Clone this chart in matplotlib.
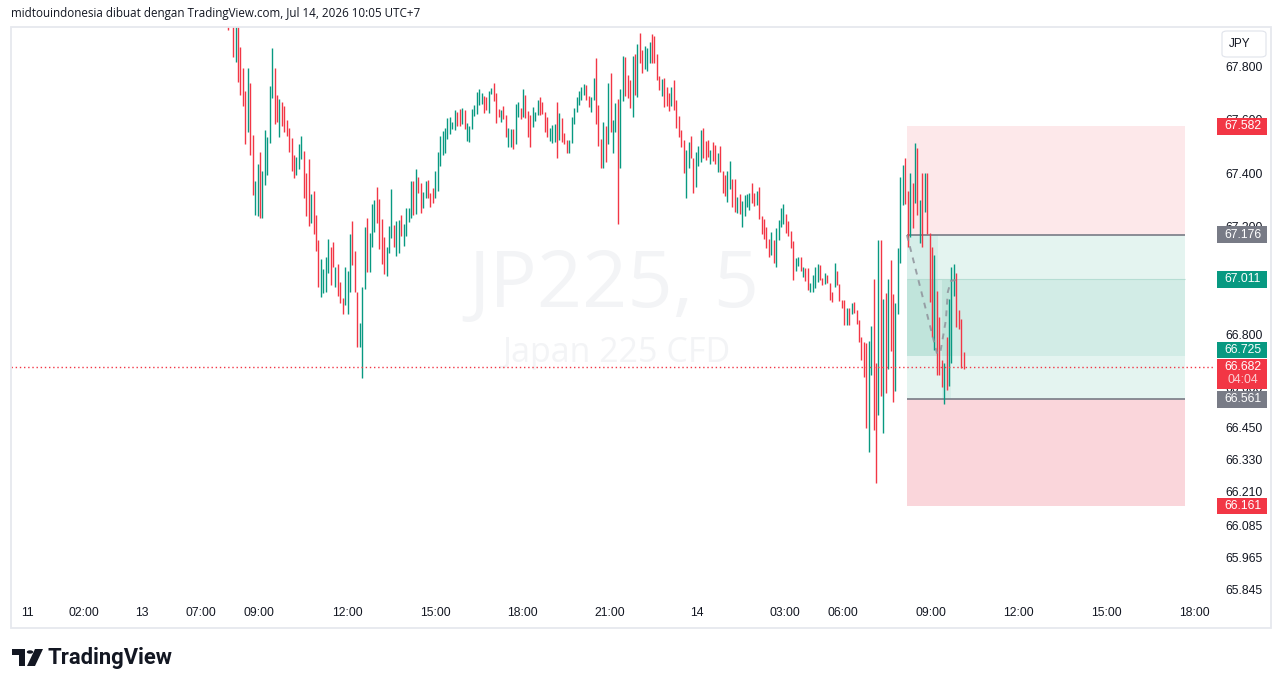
import matplotlib
matplotlib.use("Agg")
import matplotlib.pyplot as plt
import matplotlib.transforms as mtransforms
from matplotlib.patches import Rectangle, Polygon, Circle, FancyBboxPatch

# ---------------- data ----------------
highs = [
    67.990, 68.020, 67.990, 67.970, 67.960, 67.878, 67.800, 67.714, 67.800, 67.744,
    67.549, 67.377, 67.441, 67.486, 67.415, 67.568, 67.542, 67.733, 67.875, 67.800,
    67.699, 67.684, 67.673, 67.658, 67.605, 67.576, 67.538, 67.475, 67.467, 67.516,
    67.546, 67.490, 67.407, 67.460, 67.329, 67.340, 67.250, 67.157, 67.086, 67.049,
    67.093, 67.161, 67.131, 67.149, 67.056, 67.067, 67.000, 66.940, 67.056, 67.041,
    67.179, 67.228, 67.116, 66.963, 66.847, 66.981, 67.205, 67.239, 67.183, 67.291,
    67.306, 67.355, 67.310, 67.235, 67.168, 67.131, 67.209, 67.348, 67.213, 67.228,
    67.232, 67.250, 67.217, 67.277, 67.277, 67.377, 67.377, 67.422, 67.392, 67.370,
    67.336, 67.377, 67.381, 67.333, 67.351, 67.415, 67.486, 67.546, 67.564, 67.576,
    67.613, 67.617, 67.598, 67.643, 67.635, 67.647, 67.650, 67.643, 67.594, 67.583,
    67.647, 67.662, 67.710, 67.721, 67.706, 67.695, 67.691, 67.714, 67.725, 67.744,
    67.706, 67.647, 67.643, 67.658, 67.624, 67.576, 67.572, 67.572, 67.665, 67.673,
    67.650, 67.721, 67.699, 67.639, 67.624, 67.654, 67.635, 67.680, 67.691, 67.673,
    67.635, 67.617, 67.576, 67.587, 67.591, 67.673, 67.632, 67.613, 67.557, 67.531,
    67.531, 67.617, 67.650, 67.691, 67.714, 67.729, 67.740, 67.736, 67.695, 67.691,
    67.762, 67.837, 67.662, 67.534, 67.598, 67.583, 67.744, 67.781, 67.605, 67.669,
    67.684, 67.721, 67.845, 67.841, 67.774, 67.755, 67.845, 67.852, 67.890, 67.931,
    67.867, 67.882, 67.875, 67.897, 67.927, 67.919, 67.852, 67.770, 67.759, 67.762,
    67.729, 67.706, 67.729, 67.755, 67.680, 67.620, 67.568, 67.531, 67.493, 67.523,
    67.546, 67.463, 67.486, 67.508, 67.568, 67.576, 67.527, 67.531, 67.493, 67.523,
    67.512, 67.482, 67.508, 67.415, 67.400, 67.415, 67.452, 67.385, 67.385, 67.318,
    67.329, 67.303, 67.325, 67.329, 67.333, 67.370, 67.333, 67.340, 67.355, 67.247,
    67.235, 67.205, 67.161, 67.187, 67.157, 67.202, 67.232, 67.277, 67.291, 67.254,
    67.228, 67.191, 67.153, 67.090, 67.093, 67.093, 67.056, 67.052, 67.052, 66.996,
    67.026, 67.056, 67.067, 67.063, 67.015, 67.034, 67.026, 66.996, 66.963, 67.071,
    67.041, 66.992, 66.933, 66.933, 66.903, 66.903, 66.921, 66.925, 66.895, 66.858,
    66.794, 66.776, 66.772, 66.779, 66.835, 67.011, 66.697, 67.157, 67.157, 66.936,
    66.959, 67.011, 67.082, 66.955, 66.921, 67.127, 67.392, 67.437, 67.463, 67.340,
    67.407, 67.370, 67.519, 67.501, 67.306, 67.407, 67.407, 67.407, 67.183, 67.131,
    67.101, 66.966, 66.869, 66.708, 66.697, 66.794, 66.936, 67.056, 67.067, 67.034,
    66.895, 66.862, 66.738,
]
lows = [
    67.942, 67.960, 67.841, 67.822, 67.748, 67.699, 67.658, 67.516, 67.561, 67.475,
    67.325, 67.250, 67.247, 67.239, 67.239, 67.363, 67.400, 67.519, 67.688, 67.591,
    67.598, 67.542, 67.583, 67.561, 67.546, 67.486, 67.415, 67.389, 67.400, 67.422,
    67.460, 67.314, 67.247, 67.209, 67.220, 67.179, 67.116, 66.981, 66.944, 66.959,
    66.963, 67.034, 66.989, 67.056, 66.981, 66.948, 66.921, 66.880, 66.914, 66.880,
    66.963, 67.063, 66.963, 66.757, 66.757, 66.641, 66.974, 67.037, 67.037, 67.131,
    67.187, 67.220, 67.123, 67.067, 67.030, 67.022, 67.108, 67.164, 67.131, 67.097,
    67.108, 67.172, 67.134, 67.172, 67.224, 67.239, 67.250, 67.254, 67.333, 67.258,
    67.277, 67.314, 67.314, 67.280, 67.295, 67.314, 67.340, 67.433, 67.475, 67.482,
    67.534, 67.553, 67.572, 67.568, 67.583, 67.583, 67.591, 67.572, 67.527, 67.523,
    67.572, 67.620, 67.628, 67.662, 67.665, 67.632, 67.643, 67.632, 67.703, 67.677,
    67.594, 67.617, 67.598, 67.609, 67.542, 67.504, 67.504, 67.497, 67.516, 67.617,
    67.609, 67.617, 67.613, 67.542, 67.504, 67.579, 67.602, 67.624, 67.624, 67.628,
    67.561, 67.542, 67.527, 67.519, 67.523, 67.463, 67.531, 67.523, 67.516, 67.482,
    67.482, 67.519, 67.591, 67.635, 67.662, 67.680, 67.699, 67.680, 67.654, 67.635,
    67.680, 67.591, 67.508, 67.426, 67.426, 67.448, 67.516, 67.561, 67.482, 67.561,
    67.217, 67.426, 67.677, 67.695, 67.688, 67.650, 67.617, 67.699, 67.691, 67.819,
    67.781, 67.796, 67.789, 67.819, 67.819, 67.819, 67.755, 67.718, 67.695, 67.654,
    67.658, 67.639, 67.658, 67.643, 67.576, 67.542, 67.504, 67.407, 67.314, 67.426,
    67.463, 67.333, 67.355, 67.433, 67.448, 67.463, 67.456, 67.467, 67.441, 67.452,
    67.441, 67.411, 67.411, 67.333, 67.321, 67.299, 67.348, 67.280, 67.262, 67.258,
    67.254, 67.205, 67.247, 67.280, 67.269, 67.295, 67.284, 67.288, 67.235, 67.179,
    67.161, 67.127, 67.093, 67.101, 67.071, 67.056, 67.157, 67.205, 67.217, 67.183,
    67.172, 67.127, 67.007, 67.041, 67.060, 67.041, 67.019, 67.004, 66.970, 66.963,
    66.963, 66.977, 67.000, 67.007, 66.989, 66.992, 66.996, 66.933, 66.925, 66.981,
    66.989, 66.929, 66.903, 66.839, 66.839, 66.839, 66.880, 66.884, 66.843, 66.776,
    66.708, 66.645, 66.454, 66.364, 66.652, 66.447, 66.249, 66.503, 66.574, 66.435,
    66.585, 66.675, 66.742, 66.551, 66.592, 66.880, 67.071, 67.288, 67.291, 67.131,
    67.168, 67.202, 67.295, 67.250, 67.146, 67.131, 67.262, 67.179, 66.925, 66.794,
    66.746, 66.652, 66.652, 66.607, 66.544, 66.596, 66.611, 66.697, 66.948, 66.832,
    66.824, 66.678, 66.675,
]
directions = (
    "RRRGRRRRGR" "RGGRGGGGGR" "RGRRRRRRGG" "GRRRGRRRGG" "GGRRGRRRGG"
    "GRRRGGGRGG" "GRRRRGGGRG" "GRGGGGRGRR" "GGRRRGGGGG" "GGGGRRGRGG"
    "GGGGGRRGGR" "RRGRRGGRGG" "RGRRRGGGRR" "RRGGGRGRRR" "GGGGGGGRRG"
    "GRRRGRGRGG" "RGGRRRGRGR" "RGGGRRRRGR" "RRGRRRRRGG" "RRGGGRRRGR"
    "RGRRRGGRRG" "RGGGGRRGRR" "RRRGRGGGGR" "RRRGGRGRRG" "GGGRRGRRRG"
    "RRRRGRGRRR" "RRRGGRRGRG" "RGRRGGGGRR" "GRGRGRGRRR" "GRRRGRGGGR"
    "RRR"
)

time_labels = ["11", "02:00", "13", "07:00", "09:00", "12:00", "15:00", "18:00",
               "21:00", "14", "03:00", "06:00", "09:00", "12:00", "15:00", "18:00"]
time_label_bars = [-82.6, -59.3, -35.3, -11.2, 12.6, 48.8, 84.9, 120.6,
                   156.8, 192.5, 228.6, 252.4, 288.6, 324.7, 360.5, 396.6]
price_ticks = [67.800, 67.600, 67.400, 67.200, 66.800, 66.600,
               66.450, 66.330, 66.210, 66.085, 65.965, 65.845]

# position tool drawing
tool_start, tool_end = 278.7, 392.8
stop_high = 67.582
entry_high = 67.176
band_high = 67.011
band_low = 66.725
entry_low = 66.561
stop_low = 66.161
strip1 = (278.7, 291.6)
strip2 = (293.2, 296.9)
last_price = 66.682
countdown = "04:04"
path_bars = [278.7, 291.0, 292.3, 294.7, 295.5, 296.8, 298.4, 299.6]
path_prices = [67.176, 66.735, 66.731, 66.858, 66.963, 67.004, 67.007, 66.992]

# ---------------- style ----------------
UP = "#089981"
DOWN = "#F23645"
GRAYLBL = "#787B86"
TXT = "#131722"
W, H = 1281, 688
NUM_FONT = ["Liberation Sans", "DejaVu Sans"]


def fx(px):
    return px / W


def fy(py):
    return 1 - py / H


fig = plt.figure(figsize=(W / 100, H / 100), dpi=100)
fig.patch.set_facecolor("white")

ax = fig.add_axes([fx(11), fy(602), (1213 - 11) / W, (602 - 27) / H])
ax.set_xlim(-89.25, 404.4)
ax.set_ylim(65.804, 67.953)
ax.set_facecolor("white")
for s in ax.spines.values():
    s.set_visible(False)
ax.set_xticks([])
ax.set_yticks([])

# watermark
ax.text(fx(614), fy(287), "JP225, 5", transform=fig.transFigure, ha="center",
        va="center", fontsize=57, color="#F3F4F6", family="Open Sans", zorder=0.5)
ax.text(fx(617), fy(353), "Japan 225 CFD", transform=fig.transFigure, ha="center",
        va="center", fontsize=24.5, color="#F3F4F6", family="Open Sans", zorder=0.5)

# position tool zones
tw = tool_end - tool_start
ax.add_patch(Rectangle((tool_start, entry_high), tw, stop_high - entry_high,
                       fc="#FDE8EA", ec="none", zorder=1))
ax.add_patch(Rectangle((tool_start, entry_low), tw, entry_high - entry_low,
                       fc="#E4F4F0", ec="none", zorder=1))
ax.add_patch(Rectangle((tool_start, stop_low), tw, entry_low - stop_low,
                       fc="#FAD6DB", ec="none", zorder=1))
ax.add_patch(Rectangle((tool_start, band_low), tw, band_high - band_low,
                       fc="#D2ECE6", ec="none", zorder=1.1))
ax.add_patch(Rectangle((strip1[0], band_low), strip1[1] - strip1[0], entry_high - band_low,
                       fc="#D6EEE9", ec="none", zorder=1.2))
ax.add_patch(Rectangle((strip1[0], band_low), strip1[1] - strip1[0], band_high - band_low,
                       fc="#C0E4DB", ec="none", zorder=1.3))
ax.add_patch(Rectangle((strip2[0], entry_low), strip2[1] - strip2[0], band_low - entry_low,
                       fc="#D6EEE9", ec="none", zorder=1.2))
ax.add_patch(Rectangle((strip2[0], band_low), strip2[1] - strip2[0], band_high - band_low,
                       fc="#C0E4DB", ec="none", zorder=1.3))
ax.hlines([band_high], tool_start, tool_end, colors="#B5DDD3", lw=0.8, zorder=1.4)
ax.hlines([entry_high, entry_low], tool_start, tool_end, colors=GRAYLBL, lw=1.2, zorder=1.5)

# bars
xs = list(range(len(highs)))
cols = [UP if d == "G" else DOWN for d in directions]
ax.vlines(xs, lows, highs, colors=cols, lw=1.0, zorder=2)

# last price dotted line
ax.axhline(last_price, color=DOWN, lw=1.0, ls=(0, (1, 2)), zorder=2.5)

# dashed path
ax.plot(path_bars, path_prices, color="#8F929B", lw=1.4, ls=(0, (3, 3)),
        alpha=0.85, zorder=3)

# ---------------- axes text ----------------
bt = mtransforms.blended_transform_factory(fig.transFigure, ax.transData)
for p in price_ticks:
    fig.text(fx(1244), p, f"{p:.3f}", transform=bt, ha="center", va="center",
             fontsize=8.8, color=TXT, family=NUM_FONT, zorder=5)

bx = mtransforms.blended_transform_factory(ax.transData, fig.transFigure)
for pos, lab in zip(time_label_bars, time_labels):
    fig.text(pos, fy(613), lab, transform=bx, ha="center", va="center",
             fontsize=8.8, color=TXT, family=NUM_FONT, zorder=5)

# price labels (boxes)
px_per_unit = 267.5
def price_box(center, height_px, color, lines, line_offsets_px, colors_txt):
    h = height_px / px_per_unit
    r = Rectangle((fx(1217), center - h / 2), 50 / W, h, transform=bt,
                  fc=color, ec="none", zorder=6)
    fig.add_artist(r)
    for t, off, c in zip(lines, line_offsets_px, colors_txt):
        fig.text(fx(1243), center - off / px_per_unit, t, transform=bt,
                 ha="center", va="center", fontsize=8.8, color=c,
                 family=NUM_FONT, zorder=7)

price_box(stop_high, 17, DOWN, [f"{stop_high:.3f}"], [0], ["white"])
price_box(entry_high, 17, GRAYLBL, [f"{entry_high:.3f}"], [0], ["white"])
price_box(band_high, 17, UP, [f"{band_high:.3f}"], [0], ["white"])
price_box(band_low + 6 / px_per_unit, 16, UP, [f"{band_low:.3f}"], [0], ["white"])
price_box(last_price - 6.5 / px_per_unit, 30, DOWN,
          [f"{last_price:.3f}", countdown], [-6.5, 6.5], ["white", "#FBD0D4"])
price_box(entry_low, 17, GRAYLBL, [f"{entry_low:.3f}"], [0], ["white"])
price_box(stop_low, 16, DOWN, [f"{stop_low:.3f}"], [0], ["white"])

# JPY box
fig.add_artist(FancyBboxPatch((fx(1222), fy(57)), 44 / W, 26 / H,
                              boxstyle="round,pad=0,rounding_size=0.004",
                              transform=fig.transFigure, fc="white",
                              ec="#E0E3EB", lw=0.8, zorder=6))
fig.text(fx(1240), fy(44), "JPY", ha="center", va="center", fontsize=8.5,
         color=TXT, family=NUM_FONT, zorder=7)

# outer frame
fig.add_artist(Rectangle((fx(10.5), fy(627.5)), 1260 / W, 601 / H,
                         transform=fig.transFigure, fill=False,
                         ec="#E6E8EE", lw=1.3, zorder=10))

# header
fig.text(fx(11), fy(13), "midtouindonesia dibuat dengan TradingView.com, Jul 14, 2026 10:05 UTC+7",
         ha="left", va="center", fontsize=8.4, color=TXT, family=["Open Sans", "DejaVu Sans"])

# TradingView logo
logo = "#131722"
fig.add_artist(Polygon([(fx(12), fy(649)), (fx(25), fy(649)), (fx(25), fy(666)),
                        (fx(19), fy(666)), (fx(19), fy(655)), (fx(12), fy(655))],
                       closed=True, transform=fig.transFigure, fc=logo, ec="none"))
fig.add_artist(Circle((fx(30), fy(652)), 3.2 / W, transform=fig.transFigure,
                      fc=logo, ec="none"))
fig.add_artist(Polygon([(fx(35), fy(649)), (fx(43), fy(649)), (fx(35), fy(666)),
                        (fx(27), fy(666))],
                       closed=True, transform=fig.transFigure, fc=logo, ec="none"))
fig.text(fx(48), fy(658), "TradingView", ha="left", va="center", fontsize=15.8,
         fontweight="bold", color=logo, family=["Roboto", "DejaVu Sans"])

fig.savefig("out.png", dpi=100, facecolor="white")
